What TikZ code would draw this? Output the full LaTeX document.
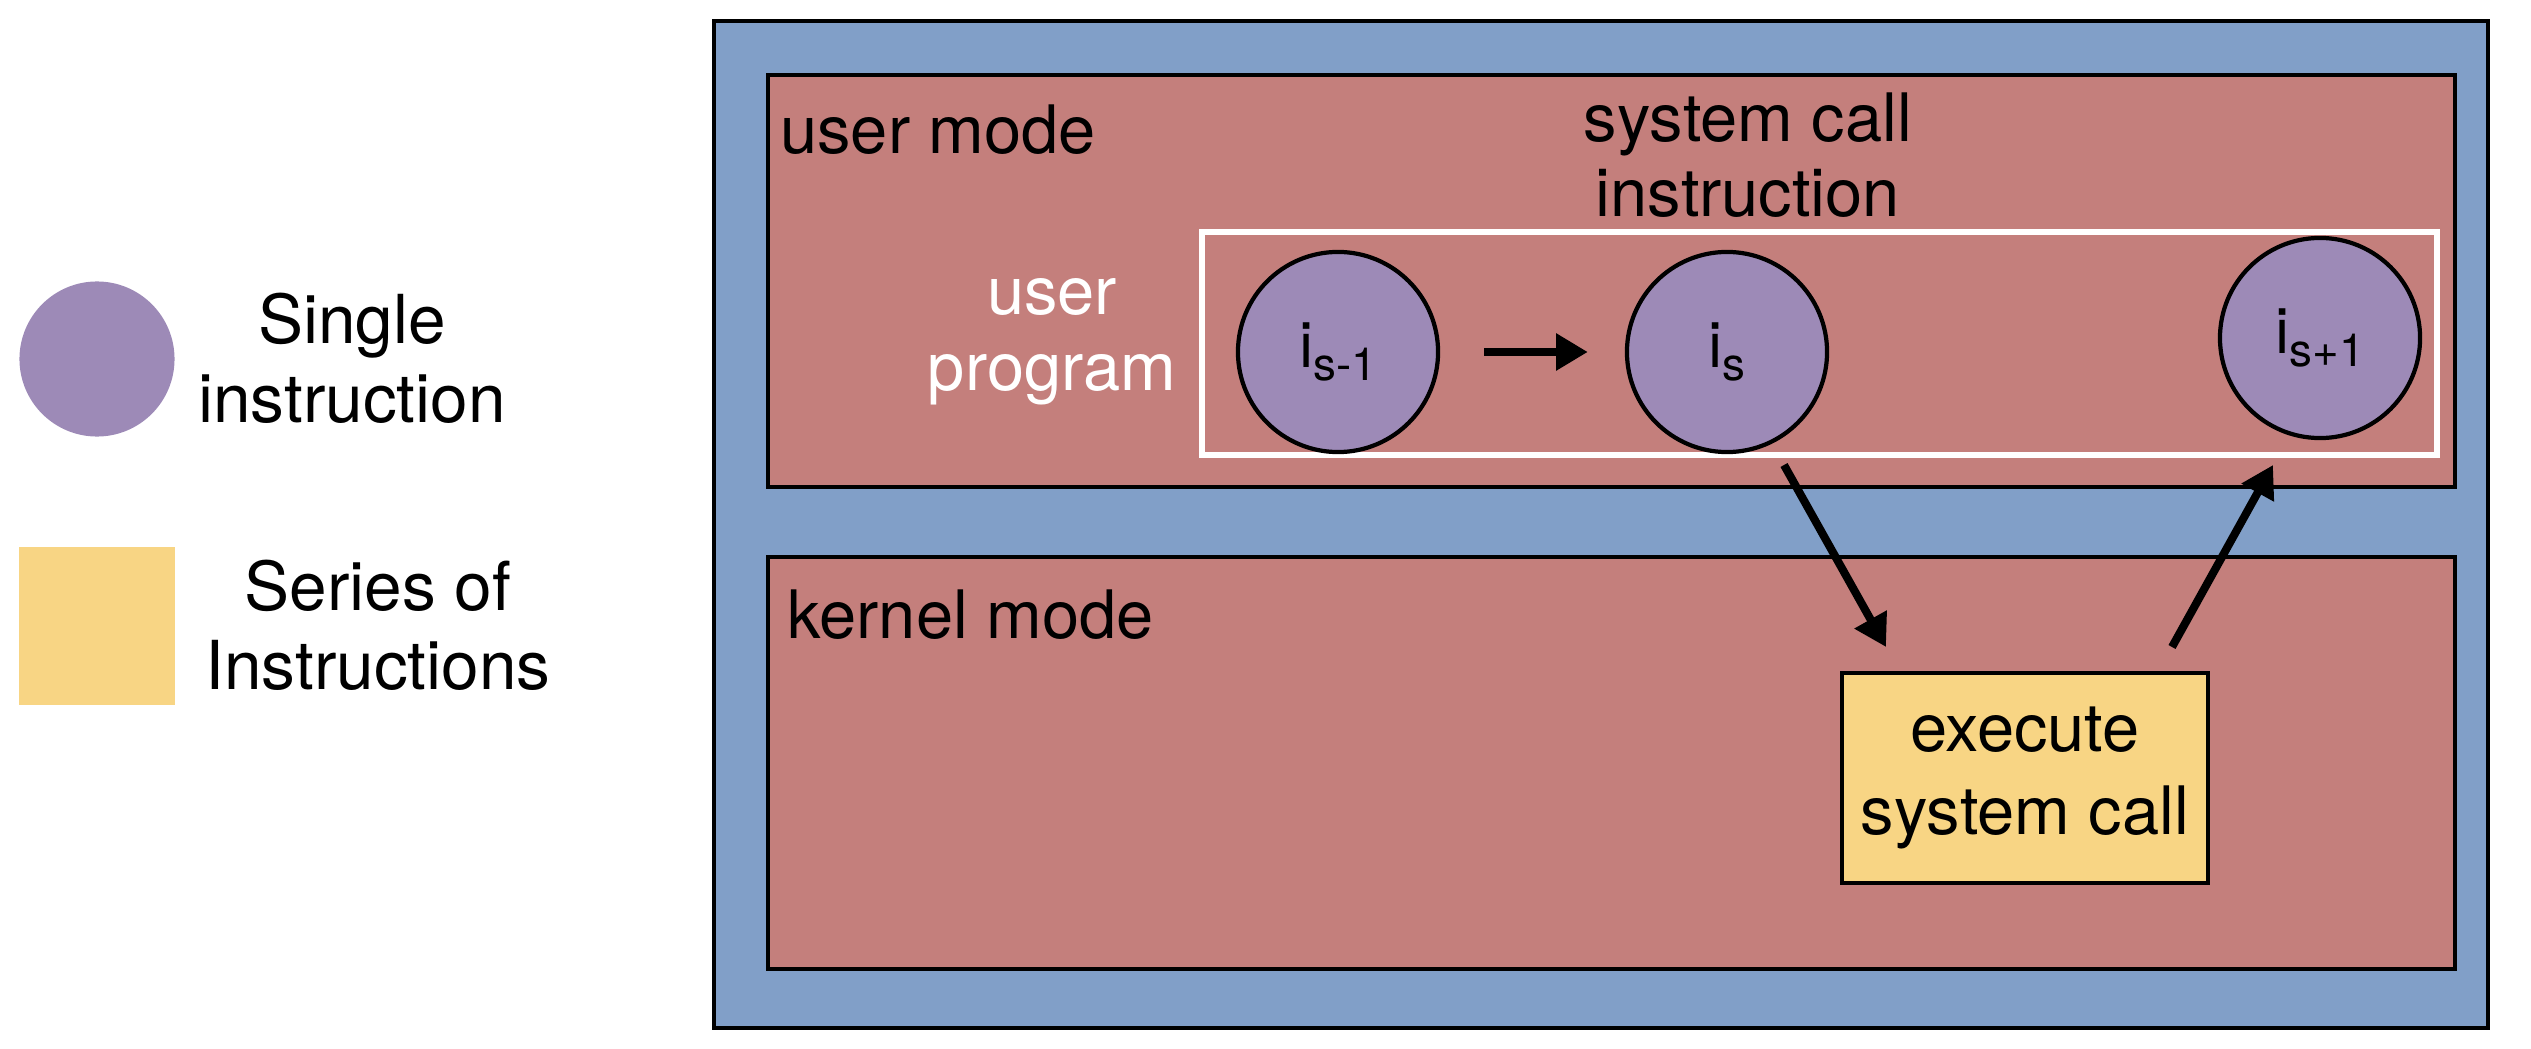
\documentclass[tikz,border=0pt]{standalone}
\usepackage{fontspec}
\setmainfont{TeX Gyre Heros}
\usetikzlibrary{arrows.meta}
\definecolor{modeblue}{RGB}{129,159,200}
\definecolor{modered}{RGB}{196,127,124}
\definecolor{instrpurple}{RGB}{157,138,183}
\definecolor{seriesyellow}{RGB}{248,213,132}
\newcommand{\instr}[1]{i\raisebox{-0.4ex}{\fontsize{13}{13}\selectfont #1}}

\begin{document}
\begin{tikzpicture}[x=0.01cm, y=-0.01cm,
    instruction/.style={circle, draw, line width=1.2pt, fill=instrpurple, minimum size=2cm, inner sep=0pt, font=\fontsize{18}{20}\selectfont},
    series/.style={rectangle, draw, line width=1pt, fill=seriesyellow, minimum width=3.66cm, minimum height=2.1cm, align=center, font=\fontsize{19}{23.5}\selectfont},
    region/.style={draw, line width=1pt},
    modetext/.style={align=center, font=\fontsize{19}{21.5}\selectfont},
    legendtext/.style={align=center, font=\fontsize{19.2}{22.5}\selectfont},
    flow/.style={line width=2.3pt, -{Triangle[length=9pt, width=10pt]}}]
   \useasboundingbox (0,0) rectangle (2531,1049);

   \draw[region, fill=modeblue] (714,21) rectangle (2488,1028);
   \draw[region, fill=modered] (768,75) rectangle (2455,487);
   \draw[region, fill=modered] (768,557) rectangle (2455,969);
   \draw[white, line width=1.8pt] (1202,232) rectangle (2437,455);

   \node[instruction, draw=none, minimum size=1.55cm] (legcircle) at (97,359) {};
   \node[legendtext] (legsingle) at (352,358) {Single\\instruction};
   \node[series, draw=none, minimum width=1.55cm, minimum height=1.57cm] (legseries) at (97,626) {};
   \node[legendtext] (legmany) at (378,625) {Series of\\Instructions};

   \node[modetext, anchor=base west] (usermode) at (768,154) {user mode};
   \node[modetext, anchor=base west] (kernelmode) at (775,638) {kernel mode};
   \node[modetext] (syscall) at (1748,155) {system call\\instruction};
   \node[modetext, text=white] (userprog) at (1052,342) {user\\program};

   \node[instruction] (prev) at (1338,352) {\instr{s-1}};
   \node[instruction] (cur) at (1727,352) {\instr{s}};
   \node[instruction] (next) at (2320,338) {\instr{s+1}};
   \node[series] (exec) at (2025,778) {execute\\system call};

   \coordinate (callstart) at (1784,465);
   \coordinate (callend) at (1886,647);
   \coordinate (retstart) at (2172,647);
   \coordinate (retend) at (2273,465);

   \draw[flow, shorten <=0.44cm, shorten >=0.37cm] (prev) to (cur);
   \draw[flow] (callstart) to (callend);
   \draw[flow] (retstart) to (retend);
\end{tikzpicture}
\end{document}
